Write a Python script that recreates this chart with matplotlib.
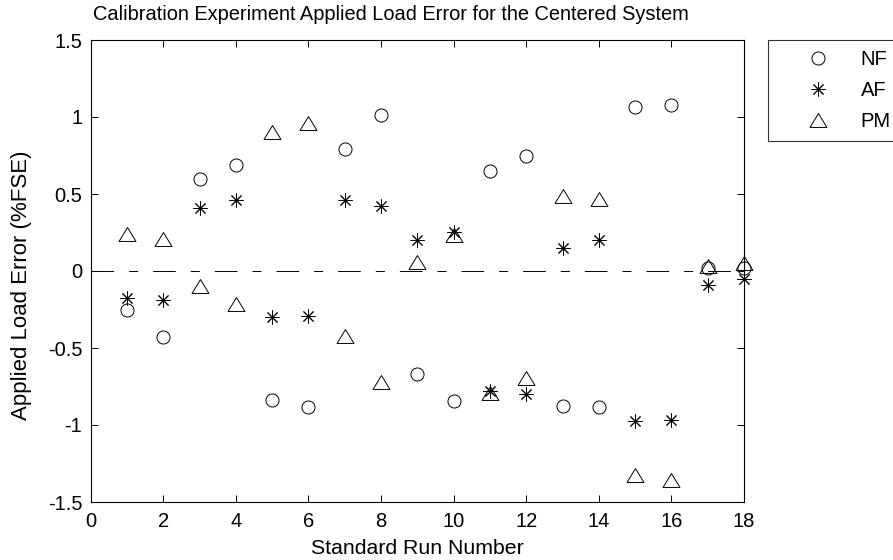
import numpy as np
import matplotlib
matplotlib.use('Agg')
import matplotlib.pyplot as plt
from matplotlib.path import Path

plt.rcParams['font.family'] = ['Liberation Sans', 'DejaVu Sans']
plt.rcParams['axes.unicode_minus'] = False
plt.rcParams['lines.scale_dashes'] = False

# Standard run numbers and applied load errors (%FSE)
runs = list(range(1, 19))
nf = [-0.25, -0.43, 0.595, 0.69, -0.835, -0.885, 0.79, 1.01, -0.67,
      -0.845, 0.648, 0.747, -0.875, -0.885, 1.063, 1.075, 0.022, 0.02]
af = [-0.178, -0.19, 0.41, 0.462, -0.298, -0.29, 0.462, 0.42, 0.2,
      0.255, -0.78, -0.798, 0.148, 0.2, -0.975, -0.965, -0.092, -0.05]
pm = [0.242, 0.208, -0.097, -0.215, 0.905, 0.962, -0.425, -0.72, 0.058,
      0.232, -0.79, -0.697, 0.49, 0.468, -1.325, -1.358, 0.03, 0.055]
labels = ['NF', 'AF', 'PM']

yticks = [-1.5, -1, -0.5, 0, 0.5, 1, 1.5]
xticks = list(range(0, 19, 2))

# MATLAB-like wide triangle
tri = Path([(0, 0.82), (-1, -0.82), (1, -0.82), (0, 0.82)],
           [Path.MOVETO, Path.LINETO, Path.LINETO, Path.CLOSEPOLY])

fig = plt.figure(figsize=(8.93, 5.6), dpi=100)
ax = fig.add_axes([90.7 / 893, 1 - 502 / 560, (744 - 90.7) / 893, (502 - 40) / 560])

ax.axhline(0, color='k', lw=0.7, dashes=(16.3, 10.8, 6.5, 10.8))

ax.plot(runs, nf, linestyle='none', marker='o', ms=9.4, mfc='none',
        mec='k', mew=0.7, clip_on=False, label=labels[0])
ax.plot(runs, af, linestyle='none', marker=(8, 2, 0), ms=10, mfc='none',
        mec='k', mew=0.7, clip_on=False, label=labels[1])
ax.plot(runs, pm, linestyle='none', marker=tri, ms=12.2, mfc='none',
        mec='k', mew=0.7, clip_on=False, label=labels[2])

ax.set_xlim(0, 18)
ax.set_ylim(-1.5, 1.5)
ax.set_xticks(xticks)
ax.set_xticklabels([str(t) for t in xticks])
ax.set_yticks(yticks)
ax.set_yticklabels(['%g' % t for t in yticks])
ax.tick_params(direction='in', length=5, width=0.7, top=True, right=True,
               labelsize=14.5, colors='k')
ax.tick_params(axis='x', pad=7)
ax.tick_params(axis='y', pad=6)
for s in ax.spines.values():
    s.set_linewidth(0.8)

ax.set_xlabel('Standard Run Number', fontsize=15.3)
ax.xaxis.set_label_coords(417 / 893, 1 - 548 / 560, transform=fig.transFigure)
ax.xaxis.label.set_va('center')
ax.set_ylabel('Applied Load Error (%FSE)', fontsize=16)
ax.yaxis.set_label_coords(22 / 893, 1 - 285 / 560, transform=fig.transFigure)
ax.yaxis.label.set_va('center')
fig.text(93 / 893, 1 - 20 / 560, 'Calibration Experiment Applied Load Error for the Centered System',
         fontsize=14.4, ha='left', va='baseline')

leg = ax.legend(loc='upper left', bbox_to_anchor=(768 / 893, 1 - 40 / 560),
                bbox_transform=fig.transFigure, borderaxespad=0, fontsize=14.5,
                frameon=True, fancybox=False, edgecolor='k', borderpad=0.5,
                handlelength=4.0, handletextpad=0.1, labelspacing=0.6)
leg.get_frame().set_linewidth(0.8)

fig.savefig('out.png', dpi=100)
